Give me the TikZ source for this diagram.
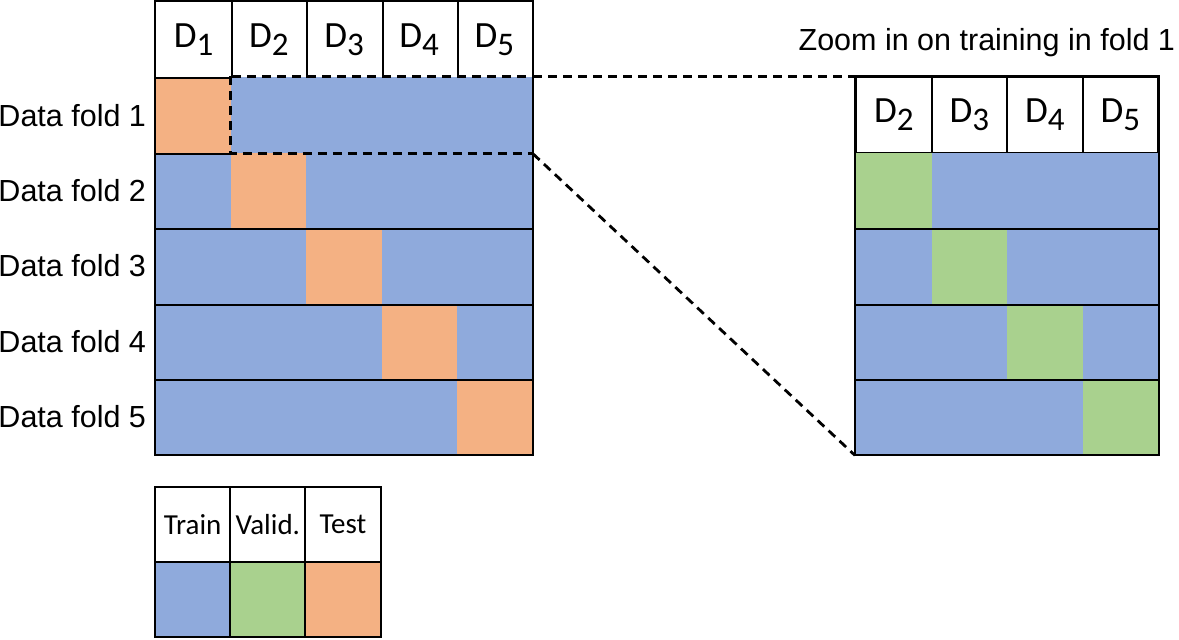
\documentclass[tikz,border=0pt]{standalone}
\usepackage{fontspec}
\setmainfont{Carlito}
\newfontfamily\arialfont{Liberation Sans}
\usetikzlibrary{positioning}
\definecolor{ctrain}{HTML}{8FAADC}
\definecolor{cvalid}{HTML}{A9D18E}
\definecolor{ctest}{HTML}{F4B183}
\tikzset{
  every picture/.style={line width=2pt},
  cell/.style={fill=#1, inner sep=0pt, minimum width=75.2pt, minimum height=75.4pt, anchor=north west},
  cell/.default=ctrain,
  head/.style={inner sep=0pt, minimum width=75.2pt, minimum height=75.4pt, anchor=north west, font=\fontsize{37}{40}\selectfont},
  lbl/.style={font=\arialfont\fontsize{30.5}{34}\selectfont, inner sep=0pt},
  zoomline/.style={draw=black, dashed, dash pattern=on 9pt off 6pt, line width=2.8pt},
}
\newcommand{\dname}[1]{D\raisebox{-8pt}{\fontsize{33}{36}\selectfont #1}}

\begin{document}
\begin{tikzpicture}[x=1pt, y=-1pt,
    zcell/.style={cell=#1, minimum width=75.5pt},
    zcell/.default=ctrain,
    zhead/.style={head, draw, minimum width=75.5pt},
    key/.style={draw, inner sep=0pt, outer sep=0pt, minimum width=75.2pt, minimum height=75pt, anchor=north west},
  ]
  \useasboundingbox (0,0) rectangle (1179,640);

  % left grid: all five folds
  \foreach \j in {1,...,5}
    \node[head] (h\j) at ({155+75.2*(\j-1)},1) {\dname{\j}};
  \foreach \i in {1,...,5} {
    \foreach \j in {1,...,5} {
      \ifnum\i=\j \def\col{ctest}\else\def\col{ctrain}\fi
      \node[cell=\col] (c\i\j) at ({155+75.2*(\j-1)},{76.4+75.4*(\i-1)}) {};
    }
    \node[lbl, left=8pt of c\i1.west] (f\i) {Data fold \i};
  }
  \draw (h1.north west) rectangle (c55.south east);
  \foreach \j in {1,...,4} \draw (h\j.north east) -- (h\j.south east);
  \draw (h1.south west) -- (h1.south east);
  \draw (c11.south west) -- (c11.south east);
  \foreach \i in {2,...,4} \draw (c\i1.south west) -- (c\i5.south east);

  % right grid: training in fold 1
  \foreach \j in {2,...,5}
    \node[zhead] (z\j) at ({855+75.5*(\j-2)},76.4) {\dname{\j}};
  \foreach \k in {1,...,4}
    \foreach \j in {2,...,5} {
      \pgfmathtruncatemacro{\v}{\j-1}
      \ifnum\k=\v \def\col{cvalid}\else\def\col{ctrain}\fi
      \node[zcell=\col] (v\k\j) at ({855+75.5*(\j-2)},{151.8+75.4*(\k-1)}) {};
    }
  \draw (z2.north west) rectangle (v45.south east);
  \foreach \k in {1,...,3} \draw (v\k2.south west) -- (v\k5.south east);
  \node[lbl, anchor=base east] (title) at (1176,50) {Zoom in on training in fold 1};

  % zoom lines
  \draw[zoomline] (c12.north west) rectangle (c15.south east);
  \draw[zoomline] (c15.north east) -- (z2.north west);
  \draw[zoomline] (c15.south east) -- (v42.south west);

  % legend
  \node[key, font=\fontsize{29}{32}\selectfont] (ktrain) at (155,487) {Train};
  \node[key, font=\fontsize{29}{32}\selectfont] (kvalid) at (230.2,487) {Valid.};
  \node[key, font=\fontsize{29}{32}\selectfont] (ktest) at (305.4,487) {Test};
  \node[key, fill=ctrain, below=0pt of ktrain] (ftrain) {};
  \node[key, fill=cvalid, below=0pt of kvalid] (fvalid) {};
  \node[key, fill=ctest, below=0pt of ktest] (ftest) {};
\end{tikzpicture}
\end{document}
